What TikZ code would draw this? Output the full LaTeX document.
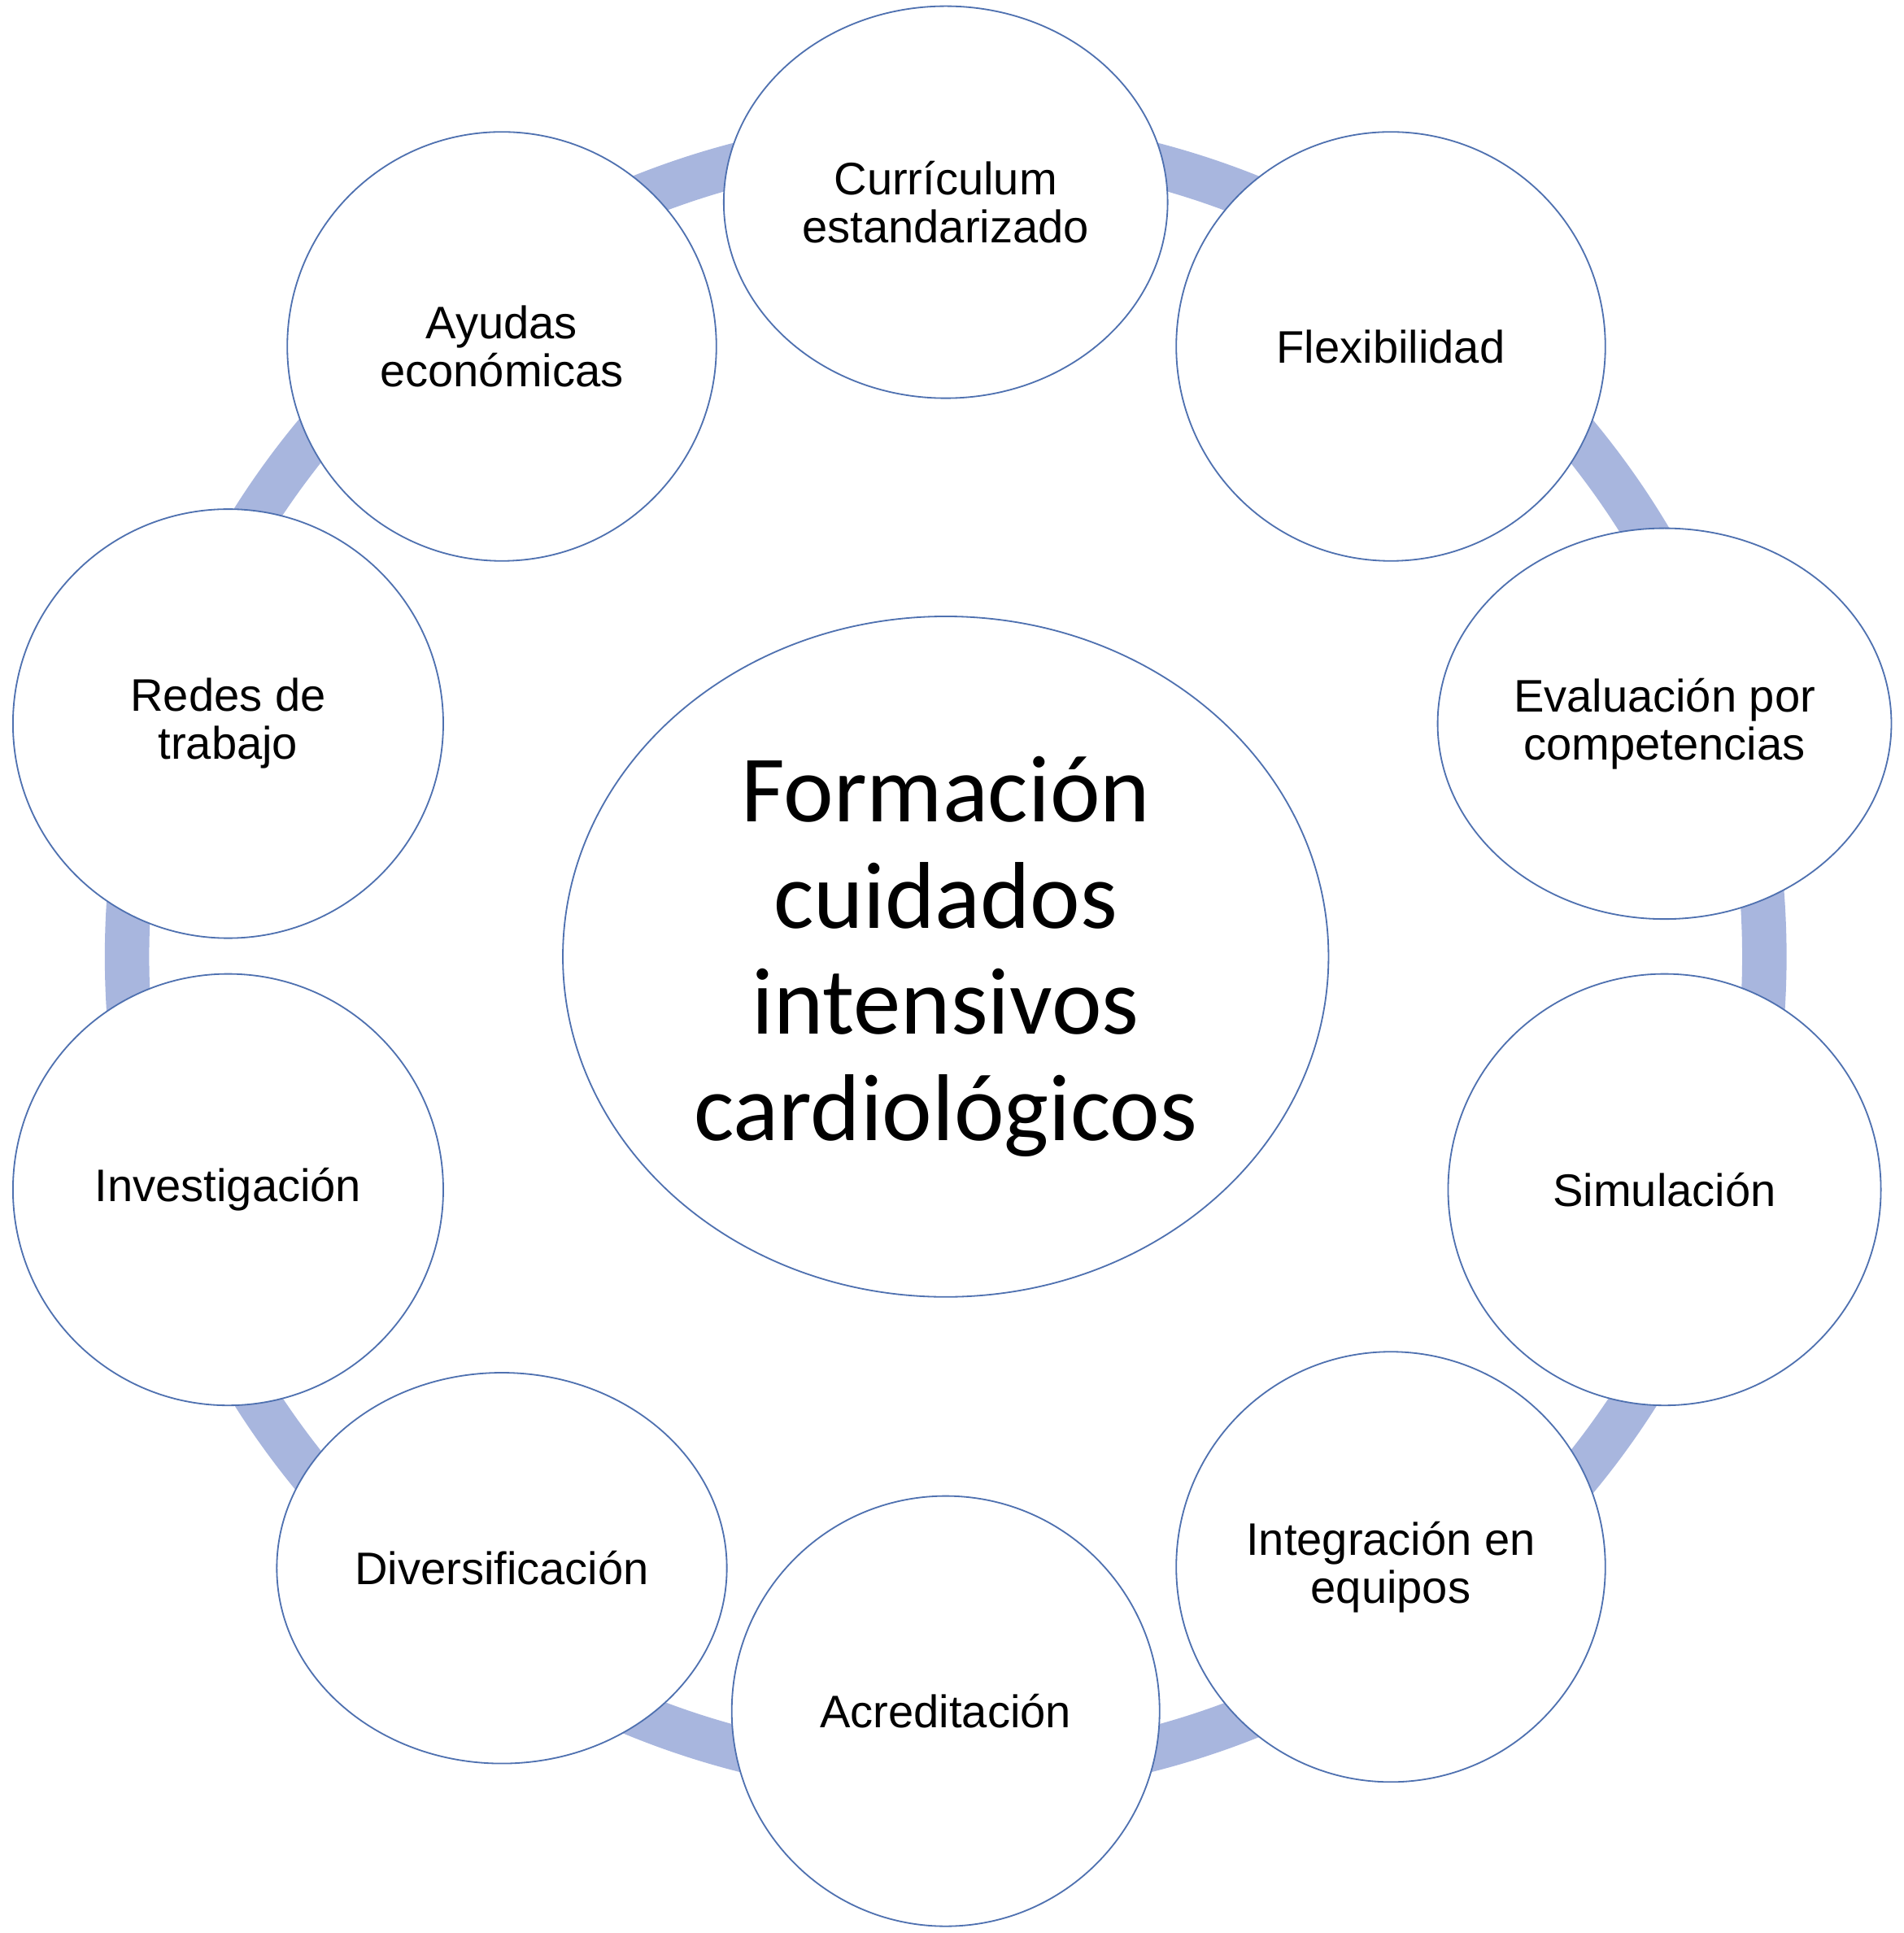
\documentclass[tikz,border=0pt]{standalone}
\usepackage{fontspec}
\setmainfont{Liberation Sans}
\newfontfamily\centrefont{Carlito}
\usetikzlibrary{shapes.geometric}
\definecolor{ringblue}{RGB}{168,182,222}
\definecolor{edgeblue}{RGB}{79,113,176}
\begin{document}
\begin{tikzpicture}[x=0.5pt,y=0.5pt,yscale=-1,xscale=1,
  tema/.style={ellipse,draw=edgeblue,line width=0.6pt,fill=white,inner sep=0pt,align=center,font=\fontsize{18.5}{19.5}\selectfont},
  nucleo/.style={ellipse,draw=edgeblue,line width=0.6pt,fill=white,inner sep=0pt,align=center,font=\centrefont\fontsize{38.5}{43}\selectfont}]
\useasboundingbox (0,0) rectangle (1544,1568);
\coordinate (o) at (767,776);
% ring behind the circles
\draw [ringblue,line width=18pt] (o) circle [radius=664];
\node [nucleo,minimum width=310.5pt,minimum height=276pt] (formacion) at (o) {Formación\\cuidados\\intensivos\\cardiológicos};
\node [tema,minimum width=180pt,minimum height=159pt] (curriculum) at (767,164) {Currículum\\estandarizado};
\node [tema,minimum width=174pt,minimum height=174pt] (flexibilidad) at (1128,281) {Flexibilidad};
\node [tema,minimum width=184pt,minimum height=158.5pt] (evaluacion) at (1350,587) {Evaluación por\\competencias};
\node [tema,minimum width=175.5pt,minimum height=175pt] (simulacion) at (1350,965) {Simulación};
\node [tema,minimum width=174pt,minimum height=174.5pt] (integracion) at (1128,1271) {Integración en\\equipos};
\node [tema,minimum width=173.5pt,minimum height=174.5pt] (acreditacion) at (767,1388) {Acreditación};
\node [tema,minimum width=182.5pt,minimum height=158.5pt] (diversificacion) at (407,1272) {Diversificación};
\node [tema,minimum width=174.5pt,minimum height=175pt] (investigacion) at (185,965) {Investigación};
\node [tema,minimum width=174.5pt,minimum height=174pt] (redes) at (185,587) {Redes de\\trabajo};
\node [tema,minimum width=174pt,minimum height=174pt] (ayudas) at (407,281) {Ayudas\\económicas};
\end{tikzpicture}
\end{document}
